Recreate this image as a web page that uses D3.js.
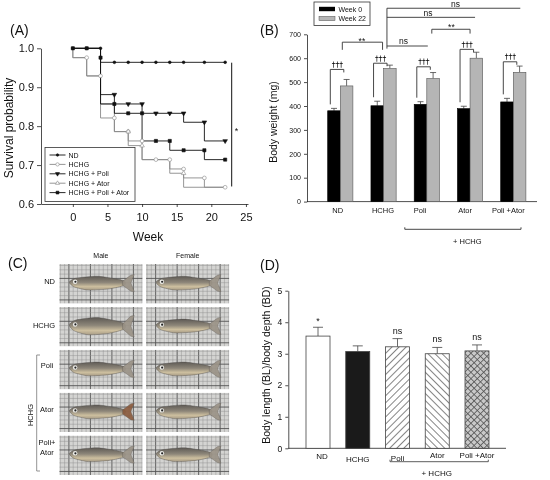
<!DOCTYPE html>
<html><head><meta charset="utf-8">
<script src="https://cdn.jsdelivr.net/npm/d3@7"></script>
<style>
body{margin:0;background:#fff}
svg{display:block;font-family:"Liberation Sans",Arial,sans-serif;will-change:transform}
</style></head><body>
<div id="chart"></div>
<script>
// ---- (A) survival, step points [week, survival] and censor marks
const weekTicks = [0, 5, 10, 15, 20, 25];
const survTicks = [0.6, 0.7, 0.8, 0.9, 1.0];
const ndSteps = [[0,1],[4,0.964],[22,0.964]];
const ndMarks = [[0,1],[2,1],[4,1],[6,0.964],[8,0.964],[10,0.964],[12,0.964],[14,0.964],[16,0.964],[19,0.964],[22,0.964]];
const hchgSteps = [[0,1],[0,0.976],[2,0.929],[4,0.821],[6,0.786],[8,0.762],[10,0.714],[14,0.69],[16,0.667],[19,0.643],[22,0.643]];
const hchgMarks = [[2,0.976],[4,0.929],[6,0.821],[8,0.786],[10,0.762],[12,0.714],[14,0.714],[16,0.69],[19,0.667],[22,0.643]];
const poliSteps = [[0,1],[4,0.881],[6,0.857],[10,0.833],[16,0.81],[19,0.762],[22,0.762]];
const poliMarks = [[6,0.881],[8,0.857],[10,0.857],[12,0.833],[14,0.833],[16,0.833],[19,0.81],[22,0.762]];
const atorSteps = [[0,1],[0,0.976],[2,0.929],[4,0.857],[6,0.786],[8,0.75],[10,0.714],[14,0.679],[16,0.643],[22,0.643]];
const atorMarks = [[8,0.786],[10,0.75],[16,0.679]];
const paSteps = [[0,1],[4,0.976],[4,0.857],[6,0.833],[10,0.762],[14,0.738],[19,0.714],[22,0.714]];
const paMarks = [[0,1],[2,1],[4,0.976],[6,0.857],[8,0.833],[10,0.833],[12,0.762],[14,0.762],[16,0.738],[19,0.738],[22,0.714]];

// ---- (B) body weight (mg)
const bwGroups = ["ND", "HCHG", "Poli", "Ator", "Poli +Ator"];
const bwWeek0 = [380, 401, 407, 389, 417];
const bwWeek0Err = [10, 19, 11, 10, 15];
const bwWeek22 = [484, 557, 515, 600, 541];
const bwWeek22Err = [27, 14, 25, 25, 26];
const bwDagLevel = [553, 579, 564, 637, 585];   // level of the ††† brackets
const bwTicks = [0, 100, 200, 300, 400, 500, 600, 700];

// ---- (C) photo grid
const photoRows = ["ND", "HCHG", "Poli", "Ator", "Poli+Ator"];
const photoCols = ["Male", "Female"];

// ---- (D) BL/BD ratio
const blGroups = ["ND", "HCHG", "Poli", "Ator", "Poli +Ator"];
const blValues = [3.56, 3.07, 3.22, 3.0, 3.09];
const blErr = [0.28, 0.18, 0.26, 0.2, 0.19];
const blMarks = ["*", "", "ns", "ns", "ns"];
const blTicks = [0, 1, 2, 3, 4, 5];

const svg = d3.select("#chart").append("svg").attr("width", 550).attr("height", 480);
svg.append("rect").attr("width", 550).attr("height", 480).attr("fill", "#fff");
const defs = svg.append("defs");

const txt = (x, y, s, size, anchor, extra) => {
  const t = svg.append("text").attr("x", x).attr("y", y).attr("font-size", size)
    .attr("text-anchor", anchor || "middle").attr("fill", "#111").text(s);
  if (extra) extra(t);
  return t;
};
const styleAxis = (g, fs) => {
  g.selectAll("path,line").attr("stroke", "#222").attr("stroke-width", 0.8);
  g.selectAll("text").attr("font-size", fs).attr("fill", "#111")
    .attr("font-family", '"Liberation Sans",Arial,sans-serif');
};

// ================= (A)
const xA = d3.scaleLinear().domain([-4.6, 25.3]).range([41, 248]);
const yA = d3.scaleLinear().domain([0.6, 1.0]).range([204, 48.3]);
const gA = svg.append("g");
gA.append("g").attr("transform", "translate(0,204)")
  .call(d3.axisBottom(xA).tickValues(weekTicks).tickSize(3).tickSizeOuter(0).tickPadding(6))
  .call(g => styleAxis(g, 11));
gA.append("g").attr("transform", "translate(41,0)")
  .call(d3.axisLeft(yA).tickValues(survTicks).tickFormat(d3.format(".1f")).tickSize(4).tickSizeOuter(0).tickPadding(3))
  .call(g => styleAxis(g, 11));
txt(10, 35, "(A)", 14, "start");
txt(148, 241, "Week", 12);
txt(0, 0, "Survival probability", 12, "middle", t => t.attr("transform", "translate(13,128) rotate(-90)"));

const series = [
  { name: "ND", steps: ndSteps, marks: ndMarks, color: "#111", sym: d3.symbolCircle, size: 6, fill: "#111", rot: 0 },
  { name: "HCHG", steps: hchgSteps, marks: hchgMarks, color: "#8a8a8a", sym: d3.symbolCircle, size: 11, fill: "#fff", rot: 0 },
  { name: "HCHG + Poli", steps: poliSteps, marks: poliMarks, color: "#111", sym: d3.symbolTriangle, size: 9, fill: "#111", rot: 180 },
  { name: "HCHG + Ator", steps: atorSteps, marks: atorMarks, color: "#8a8a8a", sym: d3.symbolTriangle, size: 9, fill: "#fff", rot: 0 },
  { name: "HCHG + Poli + Ator", steps: paSteps, marks: paMarks, color: "#111", sym: d3.symbolSquare, size: 10, fill: "#111", rot: 0 }
];
const stepLine = d3.line().x(d => xA(d[0])).y(d => yA(d[1])).curve(d3.curveStepAfter);
const drawOrder = [1, 3, 0, 2, 4];
drawOrder.forEach(i => {
  const s = series[i];
  gA.append("path").attr("d", stepLine(s.steps)).attr("fill", "none")
    .attr("stroke", s.color).attr("stroke-width", 0.9);
});
drawOrder.forEach(i => {
  const s = series[i];
  gA.selectAll(null).data(s.marks).enter().append("path")
    .attr("d", d3.symbol().type(s.sym).size(s.size))
    .attr("transform", d => `translate(${xA(d[0])},${yA(d[1])}) rotate(${s.rot})`)
    .attr("fill", s.fill).attr("stroke", s.color).attr("stroke-width", 0.6);
});
// significance bar
gA.append("line").attr("x1", 231.7).attr("x2", 231.7).attr("y1", yA(0.963)).attr("y2", yA(0.645))
  .attr("stroke", "#111").attr("stroke-width", 1);
txt(236.5, 134, "*", 9);
// legend
gA.append("rect").attr("x", 45).attr("y", 147.5).attr("width", 90).attr("height", 54)
  .attr("fill", "#fff").attr("stroke", "#333").attr("stroke-width", 0.8);
series.forEach((s, i) => {
  const ly = 155 + i * 9.4;
  gA.append("line").attr("x1", 49.5).attr("x2", 65.5).attr("y1", ly).attr("y2", ly)
    .attr("stroke", s.color).attr("stroke-width", 0.9);
  gA.append("path").attr("d", d3.symbol().type(s.sym).size(s.size * 0.8))
    .attr("transform", `translate(57.5,${ly}) rotate(${s.rot})`)
    .attr("fill", s.fill).attr("stroke", s.color).attr("stroke-width", 0.6);
  txt(68.5, ly + 2.5, s.name, 7, "start");
});

// ================= (B)
const xB = d3.scalePoint().domain(bwGroups).range([340.3, 513.3]);
const yB = d3.scaleLinear().domain([0, 700]).range([201.6, 34.3]);
const bwB = 12.6;
const bLabelShift = [-2.6, -0.6, -6.7, -5, -5];
const gB = svg.append("g");
gB.append("g").attr("transform", "translate(307,0)")
  .call(d3.axisLeft(yB).tickValues(bwTicks).tickSize(3).tickSizeOuter(0).tickPadding(3))
  .call(g => styleAxis(g, 7));
gB.append("line").attr("x1", 307).attr("x2", 537).attr("y1", yB(0)).attr("y2", yB(0))
  .attr("stroke", "#222").attr("stroke-width", 0.8);
txt(260, 35, "(B)", 14, "start");
txt(0, 0, "Body weight  (mg)", 10.5, "middle", t => t.attr("transform", "translate(277,122) rotate(-90)"));

const bwSets = [
  { vals: bwWeek0, errs: bwWeek0Err, off: -bwB, fill: "#000", stroke: "#000" },
  { vals: bwWeek22, errs: bwWeek22Err, off: 0, fill: "#b5b5b5", stroke: "#555" }
];
bwSets.forEach(set => {
  gB.selectAll(null).data(bwGroups).enter().append("line")
    .attr("x1", (d) => xB(d) + set.off + bwB / 2).attr("x2", (d) => xB(d) + set.off + bwB / 2)
    .attr("y1", (d, i) => yB(set.vals[i])).attr("y2", (d, i) => yB(set.vals[i] + set.errs[i]))
    .attr("stroke", "#444").attr("stroke-width", 0.8);
  gB.selectAll(null).data(bwGroups).enter().append("line")
    .attr("x1", (d) => xB(d) + set.off + bwB / 2 - 3).attr("x2", (d) => xB(d) + set.off + bwB / 2 + 3)
    .attr("y1", (d, i) => yB(set.vals[i] + set.errs[i])).attr("y2", (d, i) => yB(set.vals[i] + set.errs[i]))
    .attr("stroke", "#444").attr("stroke-width", 0.8);
  gB.selectAll(null).data(bwGroups).enter().append("rect")
    .attr("x", d => xB(d) + set.off).attr("width", bwB)
    .attr("y", (d, i) => yB(set.vals[i])).attr("height", (d, i) => yB(0) - yB(set.vals[i]))
    .attr("fill", set.fill).attr("stroke", set.stroke).attr("stroke-width", 0.6);
});
bwGroups.forEach((g, i) => {
  const c = xB(g);
  txt(c + bLabelShift[i], 213, g, 7.5);
  // ††† bracket week 0 vs week 22
  const ly = yB(bwDagLevel[i]);
  const leftEnd = yB(bwWeek0[i] + bwWeek0Err[i]) - 4;
  gB.append("path").attr("d", `M${c - 10},${leftEnd}V${ly}H${c + 3.5}V${ly + 3}`)
    .attr("fill", "none").attr("stroke", "#333").attr("stroke-width", 0.9);
  txt(c - 3, ly - 2.5, "\u2020\u2020\u2020", 7.5, "middle", t => t.attr("font-family", '"DejaVu Sans",sans-serif').attr("fill", "#000"));
});
// group comparisons
const bline = (d) => gB.append("path").attr("d", d).attr("fill", "none").attr("stroke", "#333").attr("stroke-width", 0.9);
const hx = xB("HCHG") + 3.4;
bline(`M${xB("ND") + 2},${yB(635)}V${yB(667)}H${xB("HCHG") - 1}V${yB(635)}`);
txt((xB("ND") + xB("HCHG")) / 2, 44, "**", 8.5);
bline(`M${hx},${yB(640)}V${yB(809)}`);
bline(`M${hx},${yB(651)}H${xB("Poli") + 1}`);
txt(403.5, 44, "ns", 8.5);
bline(`M${hx},${yB(771)}H${xB("Ator") + 5}`);
txt(428, 15.5, "ns", 8.5);
bline(`M${hx},${yB(809)}H${xB("Poli +Ator") + 7}`);
txt(455.5, 6.5, "ns", 8.5);
bline(`M${xB("Poli") + 5},${yB(703)}V${yB(721)}H${xB("Ator")}V${yB(703)}`);
txt((xB("Poli") + xB("Ator")) / 2 + 3, 30, "**", 8.5);
// + HCHG bracket
bline(`M${xB("Poli") - 22},227.3V229.3H${xB("Poli +Ator") + 7.7}V227.3`);
txt(467.3, 244, "+ HCHG", 7.5);
// legend
gB.append("rect").attr("x", 314).attr("y", 2).attr("width", 56).attr("height", 23.5)
  .attr("fill", "#fff").attr("stroke", "#333").attr("stroke-width", 0.8);
gB.append("rect").attr("x", 319).attr("y", 6.8).attr("width", 16).attr("height", 4.4).attr("fill", "#000");
gB.append("rect").attr("x", 319).attr("y", 16.3).attr("width", 16).attr("height", 4.4)
  .attr("fill", "#b5b5b5").attr("stroke", "#555").attr("stroke-width", 0.5);
txt(338.5, 11.5, "Week 0", 7, "start");
txt(338.5, 21, "Week 22", 7, "start");

// ================= (C) photo panel (schematic)
txt(8, 268, "(C)", 14, "start");
const rowC = d3.scaleBand().domain(photoRows).range([264, 475]).paddingInner(0.08);
const colC = d3.scaleBand().domain(photoCols).range([59.3, 229.3]).paddingInner(0.04);
photoCols.forEach(c => txt(colC(c) + colC.bandwidth() / 2, 257.5, c, 7));
const grad = defs.append("linearGradient").attr("id", "fishG").attr("x1", 0).attr("y1", 0).attr("x2", 0).attr("y2", 1);
grad.append("stop").attr("offset", "0").attr("stop-color", "#5e5a55");
grad.append("stop").attr("offset", "0.45").attr("stop-color", "#8d8679");
grad.append("stop").attr("offset", "0.75").attr("stop-color", "#cdbf9f");
grad.append("stop").attr("offset", "1").attr("stop-color", "#a89c86");
const gC = svg.append("g");
photoRows.forEach((r, ri) => {
  photoCols.forEach((c, ci) => {
    const x0 = colC(c), y0 = rowC(r), w = colC.bandwidth(), h = rowC.bandwidth();
    const id = `clip${ri}${ci}`;
    defs.append("clipPath").attr("id", id).append("rect").attr("x", x0).attr("y", y0).attr("width", w).attr("height", h);
    const cell = gC.append("g").attr("clip-path", `url(#${id})`);
    cell.append("rect").attr("x", x0).attr("y", y0).attr("width", w).attr("height", h).attr("fill", "#d4d4d2");
    const sp = 4.3;
    d3.range(0, w / sp + 1).forEach(k => cell.append("line")
      .attr("x1", x0 + 1 + k * sp).attr("x2", x0 + 1 + k * sp).attr("y1", y0).attr("y2", y0 + h)
      .attr("stroke", k % 5 === 2 ? "#555" : "#8c8c8c").attr("stroke-width", k % 5 === 2 ? 0.9 : 0.45));
    d3.range(0, h / sp + 1).forEach(k => cell.append("line")
      .attr("x1", x0).attr("x2", x0 + w).attr("y1", y0 + 1.5 + k * sp).attr("y2", y0 + 1.5 + k * sp)
      .attr("stroke", k % 5 === 3 ? "#555" : "#8c8c8c").attr("stroke-width", k % 5 === 3 ? 0.9 : 0.45));
    const fat = (r === "HCHG" && c === "Male") ? 1.25 : 1;
    const P = (u, v) => [x0 + u * w, y0 + (0.47 + (v - 0.47) * fat) * h];
    const body = [P(0.12, 0.46), P(0.2, 0.36), P(0.45, 0.31), P(0.66, 0.37), P(0.78, 0.43),
                  P(0.78, 0.54), P(0.6, 0.63), P(0.35, 0.66), P(0.18, 0.58)];
    cell.append("path").attr("d", d3.line().curve(d3.curveCardinalClosed.tension(0.3))(body))
      .attr("fill", "url(#fishG)").attr("stroke", "#4d4a46").attr("stroke-width", 0.4);
    const tail = [P(0.76, 0.44), P(0.86, 0.28), P(0.9, 0.27), P(0.86, 0.48), P(0.9, 0.7), P(0.86, 0.69), P(0.76, 0.54)];
    cell.append("path").attr("d", d3.line().curve(d3.curveLinearClosed)(tail))
      .attr("fill", c === "Male" && r === "Ator" ? "#8a5a3c" : "#9a9286").attr("stroke", "#5a5650").attr("stroke-width", 0.4).attr("opacity", 0.9);
    const e = P(0.19, 0.45);
    cell.append("circle").attr("cx", e[0]).attr("cy", e[1]).attr("r", 2.2).attr("fill", "#eeeeea");
    cell.append("circle").attr("cx", e[0] + 0.3).attr("cy", e[1]).attr("r", 1.1).attr("fill", "#222");
  });
});
// row labels
txt(55, 284, "ND", 7.5, "end");
txt(55, 327.5, "HCHG", 7.5, "end");
txt(47, 367.5, "Poli", 7.5);
txt(47, 411.5, "Ator", 7.5);
txt(47, 445, "Poli+", 7.5);
txt(47, 454.5, "Ator", 7.5);
txt(0, 0, "HCHG", 7.5, "middle", t => t.attr("transform", "translate(32.5,415) rotate(-90)"));
gC.append("path").attr("d", "M40,355H36.7V471H40").attr("fill", "none").attr("stroke", "#777").attr("stroke-width", 0.8);

// ================= (D)
const xD = d3.scalePoint().domain(blGroups).range([318, 477]);
const yD = d3.scaleLinear().domain([0, 5]).range([448.3, 290.7]);
const bwD = 24;
const hatch = (id, rot, bg, color) => {
  const p = defs.append("pattern").attr("id", id).attr("patternUnits", "userSpaceOnUse")
    .attr("width", 5).attr("height", 5).attr("patternTransform", `rotate(${rot})`);
  p.append("rect").attr("width", 5).attr("height", 5).attr("fill", bg);
  p.append("line").attr("x1", 2.5).attr("x2", 2.5).attr("y1", 0).attr("y2", 5).attr("stroke", color).attr("stroke-width", 0.9);
};
hatch("hatchR", 45, "#fff", "#777");
hatch("hatchL", -45, "#fff", "#777");
const cp = defs.append("pattern").attr("id", "cross").attr("patternUnits", "userSpaceOnUse")
  .attr("width", 4.5).attr("height", 4.5).attr("patternTransform", "rotate(45)");
cp.append("rect").attr("width", 4.5).attr("height", 4.5).attr("fill", "#c9c9c9");
cp.append("path").attr("d", "M2.25,0V4.5M0,2.25H4.5").attr("stroke", "#555").attr("stroke-width", 0.8);
const blFill = ["#fff", "#1a1a1a", "url(#hatchR)", "url(#hatchL)", "url(#cross)"];

const gD = svg.append("g");
gD.append("g").attr("transform", "translate(288.3,0)")
  .call(d3.axisLeft(yD).tickValues(blTicks).tickFormat(d3.format("d")).tickSize(3).tickSizeOuter(0).tickPadding(3))
  .call(g => styleAxis(g, 8.5));
gD.append("line").attr("x1", 288.3).attr("x2", 506).attr("y1", yD(0)).attr("y2", yD(0))
  .attr("stroke", "#222").attr("stroke-width", 0.8);
txt(260, 270, "(D)", 14, "start");
txt(0, 0, "Body length (BL)/body depth (BD)", 10.5, "middle", t => t.attr("transform", "translate(270,365) rotate(-90)"));
gD.selectAll(null).data(blGroups).enter().append("line")
  .attr("x1", d => xD(d)).attr("x2", d => xD(d))
  .attr("y1", (d, i) => yD(blValues[i])).attr("y2", (d, i) => yD(blValues[i] + blErr[i]))
  .attr("stroke", "#444").attr("stroke-width", 0.8);
gD.selectAll(null).data(blGroups).enter().append("line")
  .attr("x1", d => xD(d) - 5).attr("x2", d => xD(d) + 5)
  .attr("y1", (d, i) => yD(blValues[i] + blErr[i])).attr("y2", (d, i) => yD(blValues[i] + blErr[i]))
  .attr("stroke", "#444").attr("stroke-width", 0.8);
gD.selectAll(null).data(blGroups).enter().append("rect")
  .attr("x", d => xD(d) - bwD / 2).attr("width", bwD)
  .attr("y", (d, i) => yD(blValues[i])).attr("height", (d, i) => yD(0) - yD(blValues[i]))
  .attr("fill", (d, i) => blFill[i]).attr("stroke", "#444").attr("stroke-width", 0.8);
blGroups.forEach((g, i) => {
  if (blMarks[i]) txt(xD(g), yD(blValues[i] + blErr[i]) - (blMarks[i] === "*" ? 3 : 5), blMarks[i], 9);
});
const blLabelY = [459, 461.5, 461, 457.5, 457.5];
blGroups.forEach((g, i) => txt(xD(g) + (i === 0 ? 4 : 0), blLabelY[i], g, 8));
gD.append("path").attr("d", "M390,459.7V461.7H488.3V459.7").attr("fill", "none").attr("stroke", "#333").attr("stroke-width", 0.8);
txt(436.7, 475.5, "+ HCHG", 8);
</script>
</body></html>
